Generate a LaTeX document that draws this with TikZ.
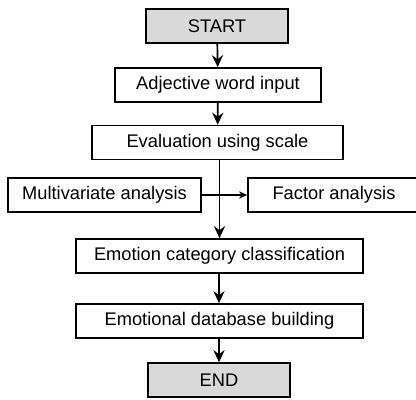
\documentclass[tikz,border=0pt]{standalone}
\usepackage{fontspec}
\setmainfont{Liberation Sans}
\usetikzlibrary{arrows.meta}
\tikzset{
  stepbox/.style={draw, line width=1.2pt, minimum height=0.85cm, inner sep=0pt,
    font=\fontsize{13}{15}\selectfont},
  endbox/.style={stepbox, fill=black!15},
  flow/.style={line width=1.2pt, -{Stealth[length=3mm,width=2.8mm,inset=1mm]}},
  side/.style={line width=1.2pt, -{Stealth[length=2mm,width=1.8mm,inset=0.6mm]}}
}

\begin{document}
\begin{tikzpicture}[x=0.025cm, y=-0.025cm]
  \useasboundingbox (0,0) rectangle (416,400);
  \node[endbox,  minimum width=3.55cm]  (start) at (217,26)    {START};
  \node[stepbox, minimum width=5.15cm]  (adj)   at (218,85)    {Adjective word input};
  \node[stepbox, minimum width=6.275cm] (eval)  at (217.5,142.5) {Evaluation using scale};
  \node[stepbox, minimum width=4.825cm] (multi) at (104.5,195) {Multivariate analysis};
  \node[stepbox, minimum width=4.3cm]   (fact)  at (334,195)   {Factor analysis};
  \node[stepbox, minimum width=7.175cm] (emo)   at (219.5,256) {Emotion category classification};
  \node[stepbox, minimum width=7.175cm] (db)    at (219.5,321) {Emotional database building};
  \node[endbox,  minimum width=3.55cm]  (end)   at (219,380)   {END};
  % connectors
  \draw[flow] (start) -- (adj);
  \draw[flow] (adj) -- (eval);
  \draw[flow] (eval.south -| emo.north) -- (emo.north);
  \draw[side] (multi.east) -- (fact.west);
  \draw[flow] (emo.south -| end.north) -- (db.north -| end.north);
  \draw[flow] (db.south -| end.north) -- (end.north);
\end{tikzpicture}
\end{document}
